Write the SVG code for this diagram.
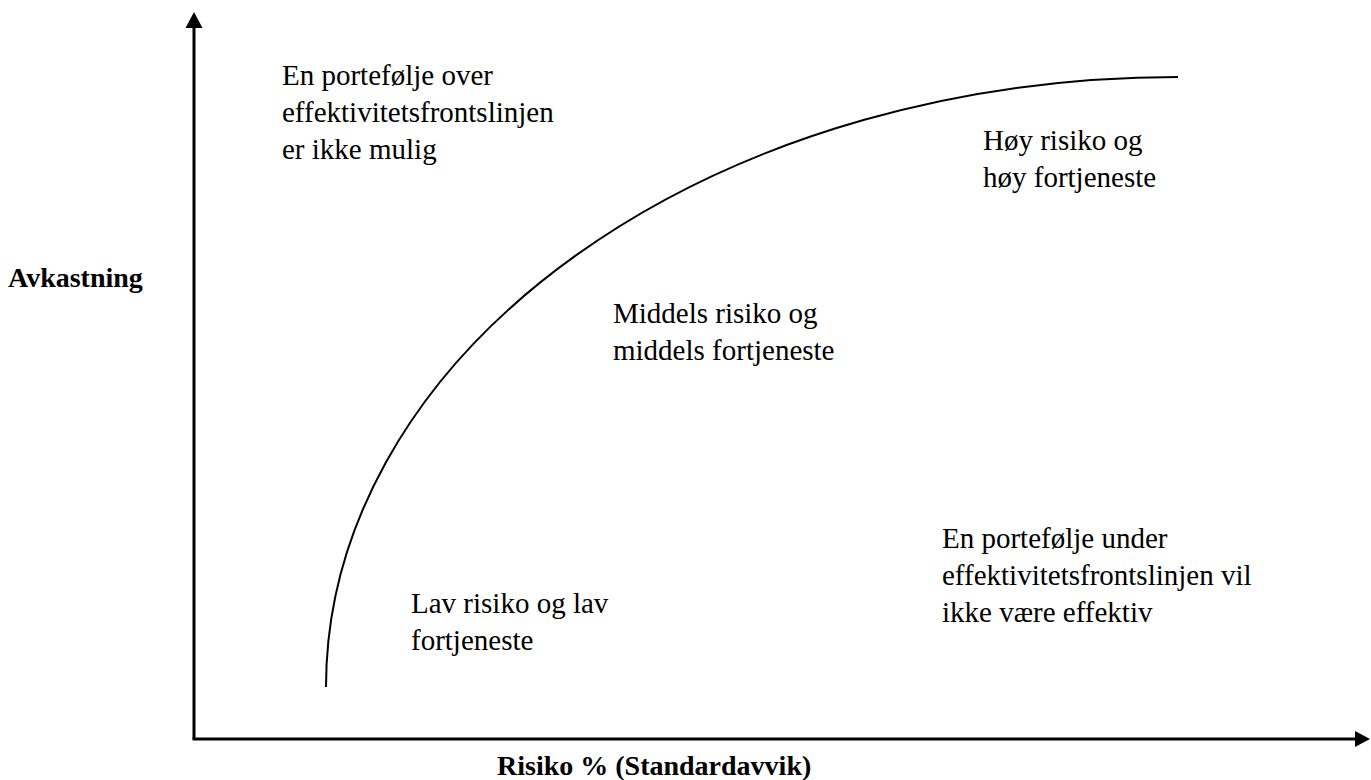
<svg xmlns="http://www.w3.org/2000/svg" width="1371" height="780" viewBox="0 0 1371 780">
<style>
.ax{stroke:#000;stroke-width:3;fill:none}
.cv{stroke:#000;stroke-width:2;fill:none}
</style>
<rect width="1371" height="780" fill="#fff"/>
<g id="connectors">
<line class="ax" x1="194" y1="26" x2="194" y2="739"/>
<line class="ax" x1="192.5" y1="739" x2="1357" y2="739"/>
<polygon points="194,12 185.5,28 202.5,28" fill="#000"/>
<polygon points="1370,739 1355,731 1355,747" fill="#000"/>
<path class="cv" d="M326 687 A852 610 0 0 1 1178 77"/>
</g>
<g font-family="Liberation Serif, DejaVu Serif, Times New Roman, serif" font-size="28" font-weight="bold" fill="#000">
<g id="label-y"><text x="8" y="287">Avkastning</text></g>
<g id="label-x"><text x="497" y="775">Risiko % (Standardavvik)</text></g>
</g>
<g font-family="Liberation Serif, DejaVu Serif, Times New Roman, serif" font-size="29" fill="#000">
<g id="over"><text x="282" y="85">En portefølje over</text><text x="282" y="122">effektivitetsfrontslinjen</text><text x="282" y="159">er ikke mulig</text></g>
<g id="hoy"><text x="983" y="150">Høy risiko og</text><text x="983" y="187">høy fortjeneste</text></g>
<g id="middels"><text x="613" y="323">Middels risiko og</text><text x="613" y="360">middels fortjeneste</text></g>
<g id="under"><text x="942" y="548">En portefølje under</text><text x="942" y="585">effektivitetsfrontslinjen vil</text><text x="942" y="622">ikke være effektiv</text></g>
<g id="lav"><text x="411" y="613">Lav risiko og lav</text><text x="411" y="650">fortjeneste</text></g>
</g>
</svg>
